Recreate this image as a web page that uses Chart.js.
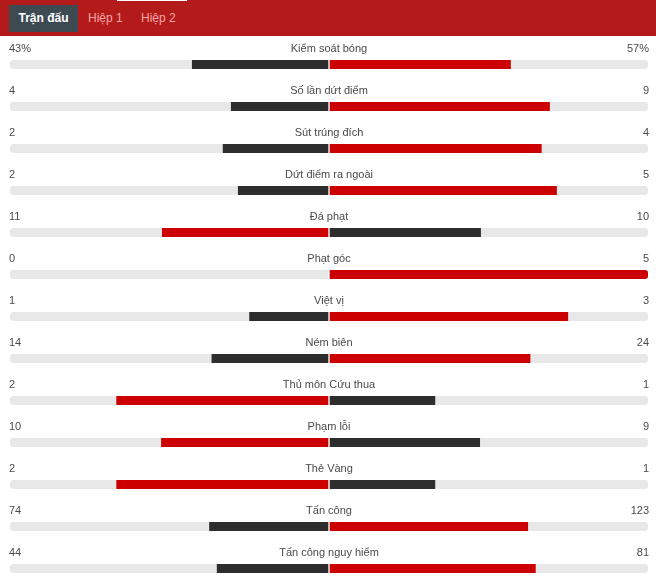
<!DOCTYPE html>
<html>
<head>
<meta charset="utf-8">
<script src="https://cdn.jsdelivr.net/npm/chart.js@4"></script>
<style>
  html, body { margin: 0; padding: 0; background: #fff; }
  #wrap { position: relative; width: 656px; height: 576px; overflow: hidden; }
  #header {
    position: absolute; left: 0; top: 0; width: 656px; height: 36px;
    background: #b31b1b; font-family: "Liberation Sans", Arial, sans-serif; font-size: 12px;
  }
  #notch { position: absolute; left: 117px; top: 0; width: 70px; height: 1px; background: #fff; }
  .tab { position: absolute; top: 5px; height: 27px; line-height: 27px; color: #f4a6a6; }
  .tab.active { background: #3d4a52; color: #fff; font-weight: bold; text-align: center; }
  canvas { position: absolute; left: 0; top: 0; }
</style>
</head>
<body>
<div id="wrap">
  <canvas id="statsChart" width="656" height="576"></canvas>
  <div id="header">
    <div id="notch"></div>
    <div class="tab active" style="left:9px;width:69px;">Trận đấu</div>
    <div class="tab" style="left:88px;">Hiệp 1</div>
    <div class="tab" style="left:141px;">Hiệp 2</div>
  </div>
</div>
<script>
const statLabels = ["Kiểm soát bóng", "Số lần dứt điểm", "Sút trúng đích", "Dứt điểm ra ngoài", "Đá phạt", "Phạt góc",
  "Việt vị", "Ném biên", "Thủ môn Cứu thua", "Phạm lỗi", "Thẻ Vàng", "Tấn công", "Tấn công nguy hiểm"];
const homeValues = [43, 4, 2, 2, 11, 0, 1, 14, 2, 10, 2, 74, 44];
const awayValues = [57, 9, 4, 5, 10, 5, 3, 24, 1, 9, 1, 123, 81];
const valueSuffix = ["%", "", "", "", "", "", "", "", "", "", "", "", ""];

const RED = "#cc0000";
const DARK = "#2d2d2d";
const TRACK = "#e8e8e8";

// share of each side, left side goes negative from the middle (zero -> no bar)
const homeShare = homeValues.map((v, i) => (v ? [-v / (v + awayValues[i]), 0] : null));
const awayShare = awayValues.map((v, i) => (v ? [0, v / (v + homeValues[i])] : null));
const homeColors = homeValues.map((v, i) => (v > awayValues[i] ? RED : DARK));
const awayColors = awayValues.map((v, i) => (v > homeValues[i] ? RED : DARK));

const textPlugin = {
  id: "statText",
  afterDatasetsDraw(chart) {
    const { ctx, chartArea, scales } = chart;
    const mid = (chartArea.left + chartArea.right) / 2;
    ctx.save();
    ctx.font = "11px 'Liberation Sans', Arial, sans-serif";
    ctx.fillStyle = "#4a4a4a";
    ctx.textBaseline = "middle";
    statLabels.forEach((label, i) => {
      const y = scales.y.getPixelForValue(i) - 16;
      ctx.textAlign = "left";
      ctx.fillText(homeValues[i] + valueSuffix[i], chartArea.left - 1, y);
      ctx.textAlign = "center";
      ctx.fillText(label, mid, y);
      ctx.textAlign = "right";
      ctx.fillText(awayValues[i] + valueSuffix[i], chartArea.right + 1, y);
    });
    ctx.restore();
  },
};

const common = {
  grouped: false,
  barThickness: 9,
  borderSkipped: false,
  borderColor: "#fff",
  clip: false,
};

new Chart(document.getElementById("statsChart").getContext("2d"), {
  type: "bar",
  data: {
    labels: statLabels,
    datasets: [
      { ...common, data: homeShare, backgroundColor: homeColors, order: 0,
        borderWidth: { left: 0, right: 1, top: 0, bottom: 0 },
        borderRadius: (c) => (homeShare[c.dataIndex] && homeShare[c.dataIndex][0] <= -1 ? { topLeft: 3, bottomLeft: 3 } : 0) },
      { ...common, data: awayShare, backgroundColor: awayColors, order: 1,
        borderWidth: { left: 1, right: 0, top: 0, bottom: 0 },
        borderRadius: (c) => (awayShare[c.dataIndex] && awayShare[c.dataIndex][1] >= 1 ? { topRight: 3, bottomRight: 3 } : 0) },
      { ...common, data: statLabels.map(() => [-1, 0]), backgroundColor: TRACK, order: 2,
        borderWidth: { left: 0, right: 1, top: 0, bottom: 0 },
        borderRadius: { topLeft: 3, bottomLeft: 3 } },
      { ...common, data: statLabels.map(() => [0, 1]), backgroundColor: TRACK, order: 3,
        borderWidth: { left: 1, right: 0, top: 0, bottom: 0 },
        borderRadius: { topRight: 3, bottomRight: 3 } },
    ],
  },
  options: {
    indexAxis: "y",
    responsive: false,
    animation: false,
    events: [],
    layout: { padding: { left: 10, right: 8, top: 64.5, bottom: 7.5 } },
    scales: {
      x: { display: false, min: -1, max: 1 },
      y: { display: false, offset: false },
    },
    plugins: {
      legend: { display: false },
      tooltip: { enabled: false },
    },
  },
  plugins: [textPlugin],
});
</script>
</body>
</html>
